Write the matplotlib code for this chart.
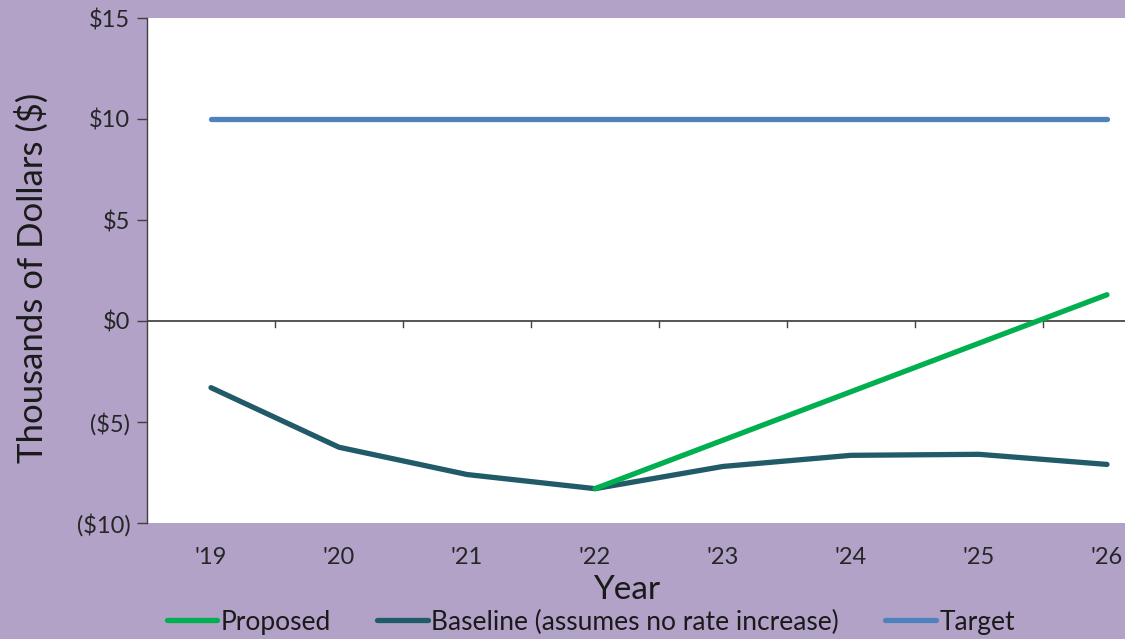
import matplotlib.pyplot as plt
from matplotlib.lines import Line2D

plt.rcParams['font.family'] = ['Lato', 'DejaVu Sans']

years = ["'19", "'20", "'21", "'22", "'23", "'24", "'25", "'26"]
target = [10, 10, 10, 10, 10, 10, 10, 10]
baseline = [-3.3, -6.25, -7.6, -8.3, -7.2, -6.65, -6.6, -7.1]
proposed_years = ["'22", "'23", "'24", "'25", "'26"]
proposed = [-8.3, -5.9, -3.5, -1.1, 1.3]

bg = '#B2A2C7'
c_green = '#00B050'
c_base = '#215A68'
c_target = '#4F81BD'

W, H = 1125, 639
fig = plt.figure(figsize=(W / 100, H / 100), dpi=100, facecolor=bg)
# plot area runs past the right edge of the image, as in the reference
ax = fig.add_axes([147 / W, (H - 523) / H, 1024 / W, (523 - 18) / H])
ax.set_facecolor('white')

x = list(range(len(years)))
xp = [years.index(y) for y in proposed_years]

ax.plot(x, target, color=c_target, lw=3.8, solid_capstyle='round')
ax.plot(x, baseline, color=c_base, lw=3.8, solid_capstyle='round')
ax.plot(xp, proposed, color=c_green, lw=3.8, solid_capstyle='round')

ax.set_xlim(-0.5, 7.5)
ax.set_ylim(-10, 15)
ax.set_yticks([-10, -5, 0, 5, 10, 15])
ax.set_yticklabels(['($10)', '($5)', '$0', '$5', '$10', '$15'])

for s in ['top', 'right', 'bottom']:
    ax.spines[s].set_visible(False)
ax.spines['left'].set_color('#404040')
ax.spines['left'].set_linewidth(1)

# zero line with ticks between categories
ax.axhline(0, color='#262626', lw=1.1, zorder=1)
for b in range(1, len(years)):
    ax.plot([b - 0.5, b - 0.5], [0, -0.3], color='#404040', lw=1, zorder=1)

ax.set_xticks(x)
ax.set_xticklabels(years)
ax.tick_params(axis='x', length=0, pad=17, labelsize=17, colors='#262626')
ax.tick_params(axis='y', length=7, width=1, color='#404040', labelsize=17,
               labelcolor='#262626', pad=5)

fig.text(627 / W, 1 - 590 / H, 'Year', ha='center', va='center',
         fontsize=24, color='#1a1a1a')
fig.text(32 / W, 1 - 278 / H, 'Thousands of Dollars ($)', ha='center',
         va='center', rotation=90, fontsize=25, color='#1a1a1a')

handles = [Line2D([], [], color=c_green, lw=3.8, solid_capstyle='round'),
           Line2D([], [], color=c_base, lw=3.8, solid_capstyle='round'),
           Line2D([], [], color=c_target, lw=3.8, solid_capstyle='round')]
labels = ['Proposed', 'Baseline (assumes no rate increase)', 'Target']
fig.legend(handles, labels, loc='center', bbox_to_anchor=(591 / W, 1 - 622 / H),
           ncol=3, frameon=False, fontsize=19, handlelength=1.9,
           handletextpad=0.15, columnspacing=1.75, labelcolor='#1a1a1a',
           borderpad=0)

fig.savefig('out.png', dpi=100, facecolor=bg)
